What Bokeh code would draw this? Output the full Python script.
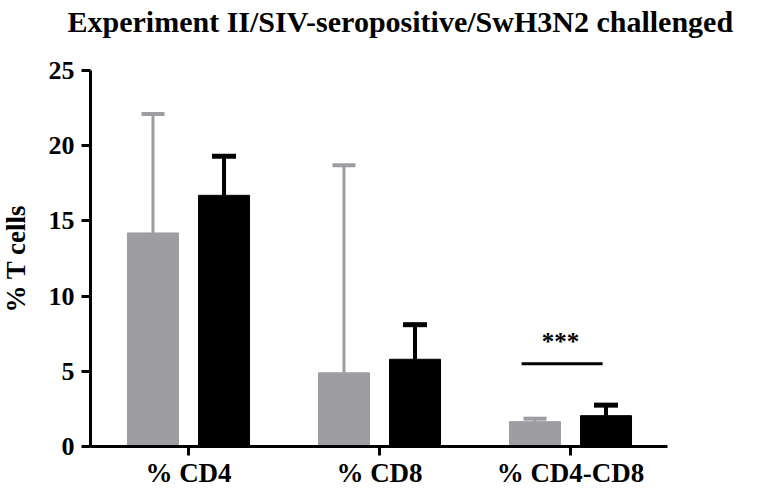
import math
from bokeh.plotting import figure
from bokeh.models import Range1d, FixedTicker, ColumnDataSource, Label
from bokeh.embed import file_html
from bokeh.resources import INLINE
from bokeh.core.properties import value

# ---- data ----
title_text = "Experiment II/SIV-seropositive/SwH3N2 challenged"
y_label_text = "% T cells"
categories = ["% CD4", "% CD8", "% CD4-CD8"]
gray_means = [14.2, 4.9, 1.65]
gray_err = [7.9, 13.8, 0.2]
black_means = [16.7, 5.8, 2.05]
black_err = [2.6, 2.3, 0.7]
y_ticks = [0, 5, 10, 15, 20, 25]
sig_text = "***"
sig_category = 2
sig_level = 5.5

FONT = "Liberation Serif"
GRAY = "#9e9da2"
OFF = 0.186
BW = 0.267

# ---- layout geometry (pixels of the canvas) ----
W, H = 760, 486
PX_CAT = 191.0          # pixels per category
X0 = 188.0              # pixel x of first category
Y0 = 446.0              # pixel y of value 0
PX_UNIT = 376.0 / 25.0  # pixels per y unit
AXIS_LEFT = 90.0
AXIS_RIGHT = 667.0

def dx(px):
    return (px - X0) / PX_CAT

def dy(py):
    return (Y0 - py) / PX_UNIT

xc = list(range(len(categories)))
gx = [x - OFF for x in xc]
bx = [x + OFF for x in xc]

p = figure(frame_width=W, frame_height=H, output_backend="svg", toolbar_location=None,
           x_range=Range1d(dx(0), dx(W)), y_range=Range1d(dy(H), dy(0)),
           min_border=0, min_border_left=0, min_border_right=0, min_border_top=0, min_border_bottom=0,
           outline_line_color=None, background_fill_color="white", border_fill_color="white")

p.add_layout(Label(x=dx(67), y=dy(21), text=title_text,
                   text_font=FONT, text_font_size="30px", text_font_style="bold", text_color="black",
                   text_align="left", text_baseline="alphabetic"))
p.add_layout(Label(x=dx(15), y=dy(258), text=y_label_text, angle=math.pi / 2,
                   text_font=FONT, text_font_size="27px", text_font_style="bold", text_color="black",
                   text_align="center", text_baseline="middle"))

gsrc = ColumnDataSource(dict(x=gx, top=gray_means, err_top=[m + e for m, e in zip(gray_means, gray_err)]))
bsrc = ColumnDataSource(dict(x=bx, top=black_means, err_top=[m + e for m, e in zip(black_means, black_err)]))

# error bars (upper only), drawn behind bars
p.segment(x0="x", y0="top", x1="x", y1="err_top", source=gsrc, line_color=GRAY, line_width=3)
p.scatter(x="x", y="err_top", source=gsrc, marker="dash", size=23, line_color=GRAY, line_width=4)
p.segment(x0="x", y0="top", x1="x", y1="err_top", source=bsrc, line_color="black", line_width=4)
p.scatter(x="x", y="err_top", source=bsrc, marker="dash", size=24, line_color="black", line_width=5)

p.vbar(x="x", top="top", bottom=0, width=BW, source=gsrc, fill_color=GRAY, line_color=GRAY)
p.vbar(x="x", top="top", bottom=0, width=BW, source=bsrc, fill_color="black", line_color="black")

# significance marker
p.segment(x0=[sig_category - OFF - 0.07], y0=[sig_level], x1=[sig_category + OFF - 0.018], y1=[sig_level],
          line_color="black", line_width=3)
p.text(x=[sig_category - 0.052], y=[sig_level + 1.45], text=[sig_text], text_font=value(FONT),
       text_font_size="25px", text_font_style="bold", text_align="center", text_baseline="alphabetic",
       text_color="black")

p.grid.visible = False

p.xaxis.ticker = FixedTicker(ticks=xc)
p.xaxis.major_label_overrides = {i: c for i, c in enumerate(categories)}
p.xaxis.fixed_location = 0
p.xaxis.bounds = (dx(AXIS_LEFT), dx(AXIS_RIGHT))
p.yaxis.ticker = FixedTicker(ticks=y_ticks)
p.yaxis.fixed_location = dx(AXIS_LEFT)
p.yaxis.bounds = (y_ticks[0], y_ticks[-1])

for ax in (p.xaxis, p.yaxis):
    ax.axis_line_width = 3
    ax.major_tick_line_width = 3
    ax.major_tick_in = 0
    ax.minor_tick_line_color = None
    ax.major_label_text_font = FONT
    ax.major_label_text_font_style = "bold"
    ax.major_label_text_color = "black"

p.xaxis.major_tick_out = 9
p.xaxis.major_label_standoff = 2
p.xaxis.major_label_text_font_size = "27px"
p.yaxis.major_tick_out = 9
p.yaxis.major_label_standoff = 7
p.yaxis.major_label_text_font_size = "26px"

open("out.html", "w").write(file_html(p, INLINE))
